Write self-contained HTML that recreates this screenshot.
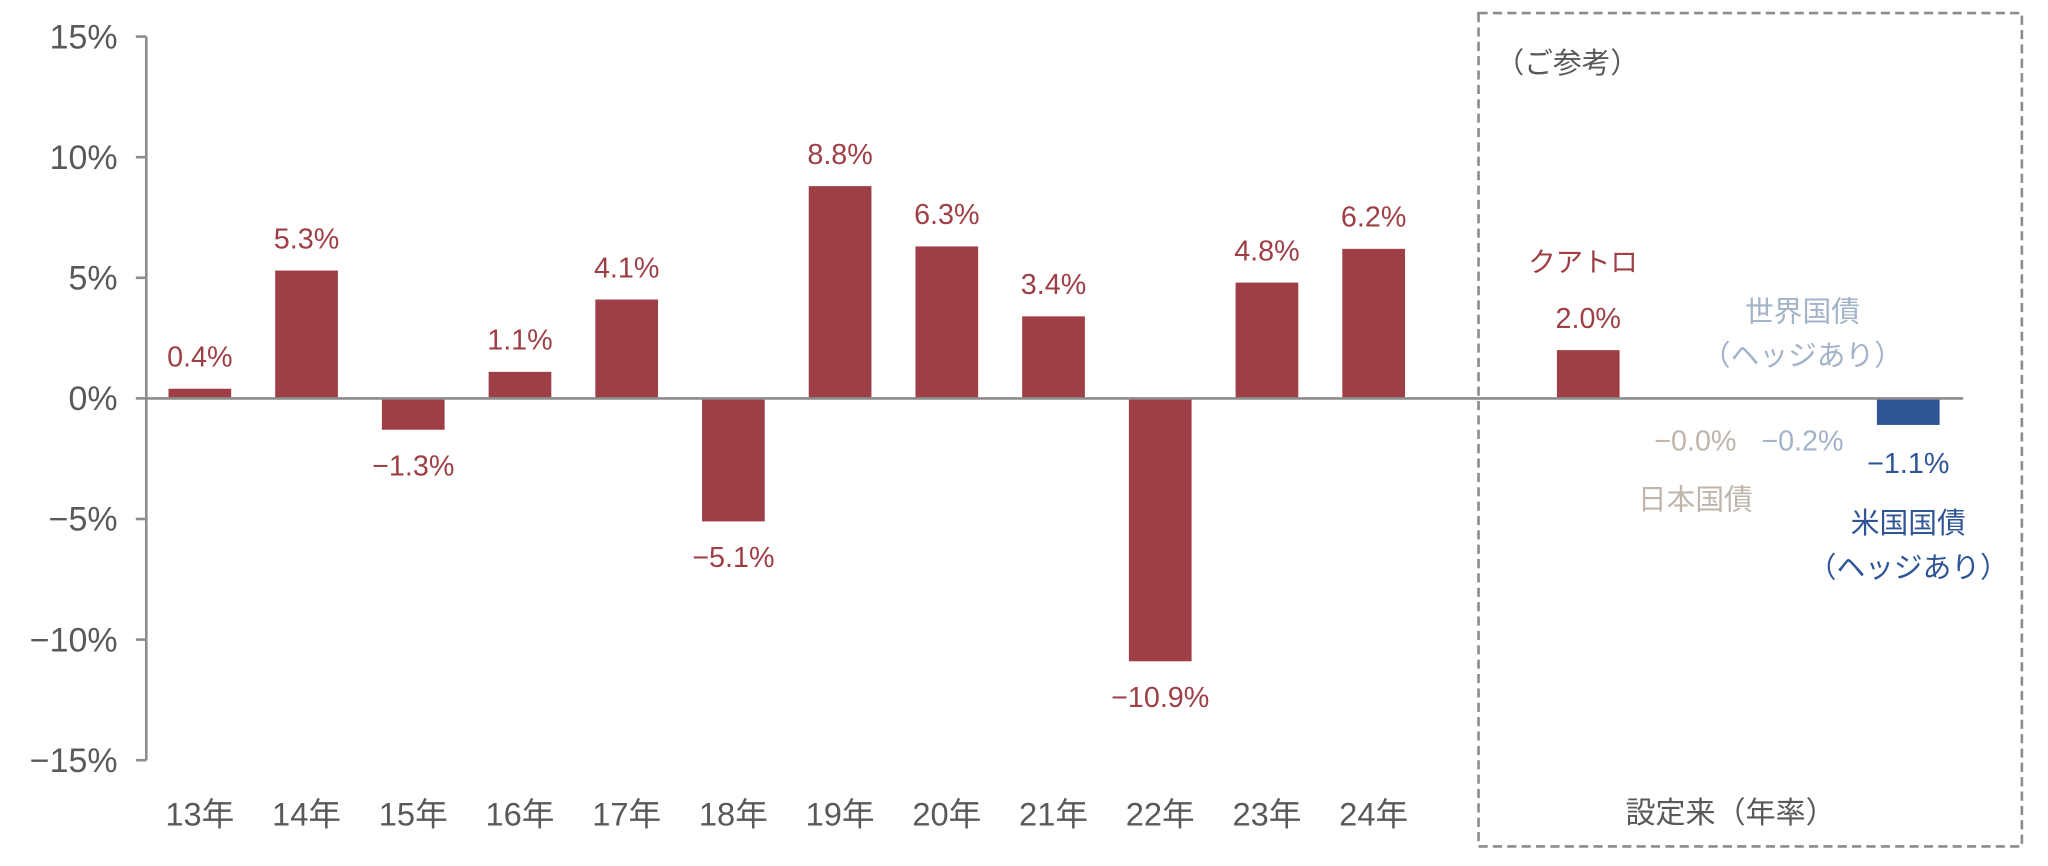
<!DOCTYPE html>
<html><head><meta charset="utf-8"><style>
html,body{margin:0;padding:0;background:#fff;}
svg{display:block;font-family:"Liberation Sans","Noto Sans CJK JP",sans-serif;}
</style></head><body>
<svg id="chart" width="2048" height="866" viewBox="0 0 1568 663" preserveAspectRatio="none" xmlns="http://www.w3.org/2000/svg"></svg>
<script>
const categories = ["13年","14年","15年","16年","17年","18年","19年","20年","21年","22年","23年","24年"];
const values = [0.4,5.3,-1.3,1.1,4.1,-5.1,8.8,6.3,3.4,-10.9,4.8,6.2];
const refNames = ["クアトロ","日本国債","世界国債（ヘッジあり）","米国国債（ヘッジあり）"];
const refValues = [2.0,-0.0,-0.2,-1.1];
const yTicks = [15,10,5,0,-5,-10,-15];

const NS="http://www.w3.org/2000/svg";
const svg=document.getElementById('chart');
const y0=305, pxPer=(582-28)/30;
function yScale(v){return y0 - v*pxPer;}
function xCat(i){return 153 + i*81.7;}
const refX=[1216,1298,1380,1461];
const RED="#9e3f46", GRAY="#595959";
function el(tag,attrs,text){const e=document.createElementNS(NS,tag);for(const k in attrs)e.setAttribute(k,attrs[k]);if(text!==undefined)e.textContent=text;svg.appendChild(e);return e;}
function fmt(v){return (v<0||Object.is(v,-0)?"−":"")+Math.abs(v).toFixed(1)+"%";}

let box=el('rect',{x:1132,y:10,width:416,height:638,fill:'none',stroke:'#8c8c8c','stroke-width':2,'stroke-dasharray':'7,4'});



let ax=el('line',{x1:112,y1:yScale(15),x2:112,y2:yScale(-15),stroke:'#8c8c8c','stroke-width':2});


yTicks.forEach(t=>{
  let tk=el('line',{x1:104,y1:yScale(t),x2:112,y2:yScale(t),stroke:'#8c8c8c','stroke-width':2});
  
  
  let lb=el('text',{x:90,y:yScale(t)+9,'text-anchor':'end','font-size':26,fill:GRAY},(t<0?"−":"")+Math.abs(t)+"%");
  
  
});

const bw=48;
categories.forEach((c,i)=>{
  const v=values[i], x=xCat(i);
  let r=el('rect',{x:x-bw/2,y:Math.min(yScale(v),y0),width:bw,height:Math.abs(yScale(v)-y0),fill:RED});
  
  
  const ly = v>=0 ? yScale(v)-17 : yScale(v)+35;
  let t=el('text',{x:x,y:ly,'text-anchor':'middle','font-size':22,fill:RED},fmt(v));
  
  
  let cl=el('text',{x:x,y:632,'text-anchor':'middle','font-size':25,fill:GRAY},c);
  
  
});

const refColors=[RED,"#bfb5aa","#a3b3c8","#2f5597"];
const refFills=[RED,"none","none","#2f5597"];
refNames.forEach((n,i)=>{
  const v=refValues[i], x=refX[i];
  let r=el('rect',{x:x-bw/2,y:Math.min(yScale(v),y0),width:bw,height:Math.abs(yScale(v)-y0),fill:refFills[i]});
  
  
});
let zl=el('line',{x1:112,y1:y0,x2:1503,y2:y0,stroke:'#8c8c8c','stroke-width':2});



function txt(x,y,s,fill,size,name){let t=el('text',{x:x,y:y,'text-anchor':'middle','font-size':size,fill:fill},s);return t;}
txt(1200,56,"（ご参考）",GRAY,22,'reference-title');
txt(1212,208,"クアトロ",RED,21,'quattro-label');
txt(refX[0],yScale(refValues[0])-17,fmt(refValues[0]),RED,22,'quattro-value');
txt(1380,246,"世界国債",refColors[2],22,'world-bond-label');
txt(1380,280,"（ヘッジあり）",refColors[2],22,'world-bond-hedge-label');
txt(1298,345,fmt(refValues[1]),refColors[1],22,'jgb-value');
txt(1380,345,fmt(refValues[2]),refColors[2],22,'world-bond-value');
txt(1298,390,"日本国債",refColors[1],22,'jgb-label');
txt(1461,362,fmt(refValues[3]),refColors[3],22,'us-bond-value');
txt(1461,408,"米国国債",refColors[3],22,'us-bond-label');
txt(1461,442,"（ヘッジあり）",refColors[3],22,'us-bond-hedge-label');
txt(1325,630,"設定来（年率）",GRAY,23,'since-inception-label');
</script>
</body></html>
